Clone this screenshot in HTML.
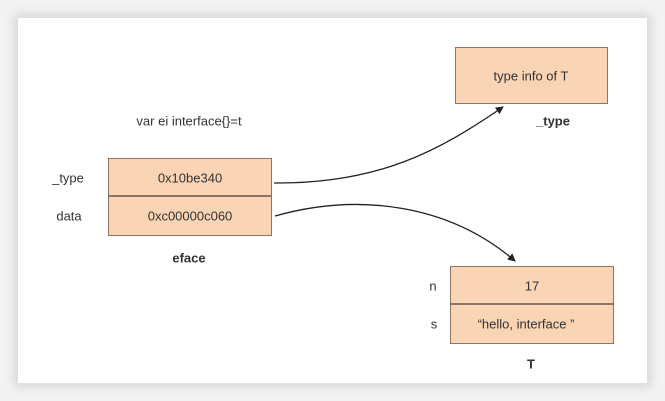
<!DOCTYPE html>
<html><head><style>
body{margin:0;width:665px;height:401px;background:#f3f3f3;overflow:hidden;font-family:"Liberation Sans",sans-serif;}
.card{position:absolute;left:18px;top:18px;width:629px;height:365px;background:#fff;box-shadow:0 0 10px 4px rgba(0,0,0,0.12);}
.box{position:absolute;background:#f9d4b5;border:1.5px solid #8c7565;box-sizing:border-box;}
.t{position:absolute;font-size:13px;color:#333;transform:translate(-50%,-50%);white-space:nowrap;}
.b{font-weight:bold;}
</style></head><body>
<div class="card"></div>
<div class="box" style="left:108px;top:158px;width:164px;height:78px;"></div>
<div style="position:absolute;left:108px;top:195px;width:164px;height:1.5px;background:#8c7565"></div>
<div class="box" style="left:455px;top:47px;width:153px;height:57px;"></div>
<div class="box" style="left:450px;top:266px;width:164px;height:78px;"></div>
<div style="position:absolute;left:450px;top:303px;width:164px;height:1.5px;background:#8c7565"></div>
<svg width="665" height="401" style="position:absolute;left:0;top:0">
<defs><marker id="a" markerWidth="8" markerHeight="8" refX="7" refY="4" orient="auto" markerUnits="userSpaceOnUse"><path d="M0,0 L8,4 L0,8 z" fill="#222"/></marker></defs>
<path d="M274,183 C380,184 440,150 503,107" fill="none" stroke="#222" stroke-width="1.3" marker-end="url(#a)"/>
<path d="M275,216 C360,192 450,205 515,261" fill="none" stroke="#222" stroke-width="1.3" marker-end="url(#a)"/>
</svg>
<div class="t" style="left:189px;top:121px">var ei interface{}=t</div>
<div class="t" style="left:190px;top:178px">0x10be340</div>
<div class="t" style="left:190px;top:216px">0xc00000c060</div>
<div class="t b" style="left:189px;top:258px">eface</div>
<div class="t" style="left:68px;top:178px">_type</div>
<div class="t" style="left:69px;top:216px">data</div>
<div class="t" style="left:531px;top:76px">type info of T</div>
<div class="t b" style="left:553px;top:121px">_type</div>
<div class="t" style="left:532px;top:286px">17</div>
<div class="t" style="left:526px;top:324px">“hello, interface ”</div>
<div class="t" style="left:433px;top:286px">n</div>
<div class="t" style="left:434px;top:324px">s</div>
<div class="t b" style="left:531px;top:364px">T</div>
</body></html>
